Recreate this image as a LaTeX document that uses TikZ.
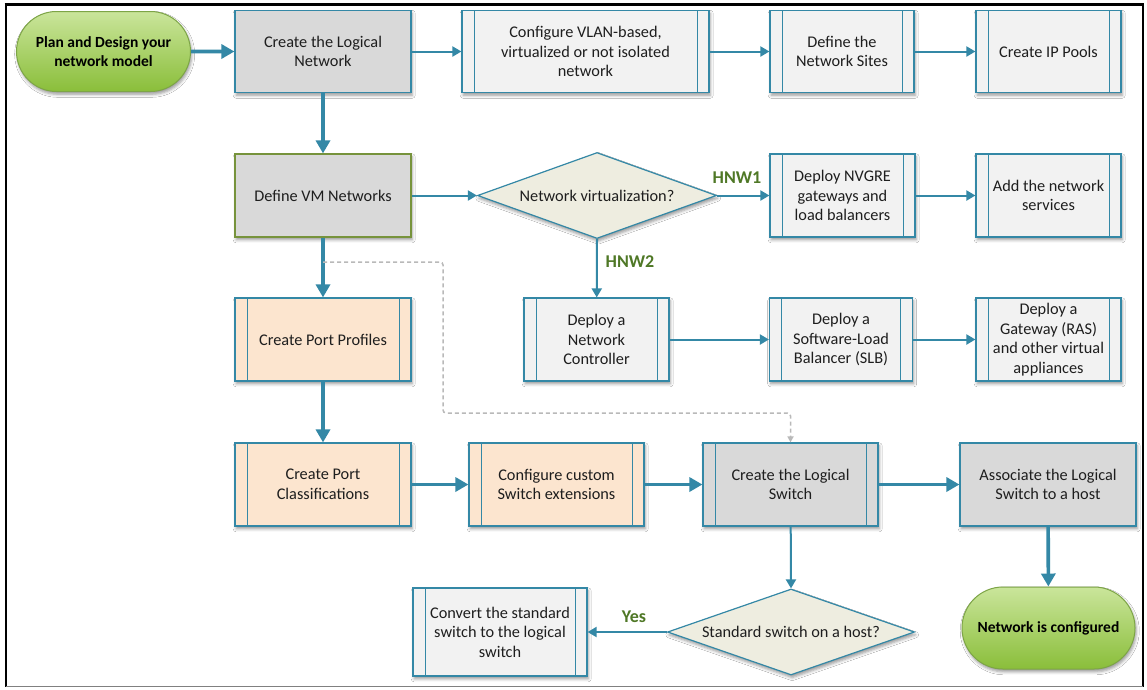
\documentclass[tikz,border=0pt]{standalone}
\usepackage{fontspec}
\setmainfont{Carlito}
\usetikzlibrary{arrows.meta,shadows.blur,shapes.geometric,shapes.misc}

\definecolor{flowteal}{RGB}{52,136,166}
\definecolor{boxgray}{RGB}{217,217,217}
\definecolor{boxlight}{RGB}{242,242,242}
\definecolor{boxpeach}{RGB}{252,229,207}
\definecolor{decisionfill}{RGB}{238,237,224}
\definecolor{termtop}{RGB}{202,229,155}
\definecolor{termbot}{RGB}{138,190,58}
\definecolor{termedge}{RGB}{125,165,70}
\definecolor{olivedge}{RGB}{119,147,60}
\definecolor{labelgreen}{RGB}{79,120,38}
\definecolor{textdark}{RGB}{30,30,30}
\definecolor{dashgray}{RGB}{185,185,185}

\tikzset{
  boxsize/.style 2 args={minimum width=#1pt, minimum height=#2pt},
  softshadow/.style={blur shadow={shadow xshift=1.2pt, shadow yshift=-2.8pt,
      shadow blur radius=3pt, shadow opacity=40}},
  basebox/.style={rectangle, draw=flowteal, line width=1.2pt, align=center,
      inner sep=0pt, text=textdark, font=\fontsize{16.3}{19.5}\selectfont, softshadow},
  procbox/.style={basebox,
      path picture={
        \draw[flowteal, line width=1pt]
          ([xshift=12pt]path picture bounding box.north west) --
          ([xshift=12pt]path picture bounding box.south west);
        \draw[flowteal, line width=1pt]
          ([xshift=-12pt]path picture bounding box.north east) --
          ([xshift=-12pt]path picture bounding box.south east);
      }},
  graybox/.style={basebox, fill=boxgray},
  lightproc/.style={procbox, fill=boxlight},
  grayproc/.style={procbox, fill=boxgray},
  peachproc/.style={procbox, fill=boxpeach},
  decision/.style={diamond, draw=flowteal, line width=1.2pt, fill=decisionfill,
      inner sep=0pt, softshadow},
  decisiontext/.style={text=textdark, font=\fontsize{16.3}{19.5}\selectfont},
  terminal/.style={rounded rectangle, draw=termedge, line width=1pt,
      top color=termtop, bottom color=termbot, align=center, inner sep=0pt,
      text=black, font=\fontsize{15.5}{19}\selectfont\bfseries, softshadow},
  thickarrow/.style={draw=flowteal, line width=3.6pt,
      -{Triangle[length=13pt,width=14pt]}},
  thinarrow/.style={draw=flowteal, line width=2pt,
      -{Triangle[length=9pt,width=10pt]}},
  dashconn/.style={draw=dashgray, line width=1.5pt, dash pattern=on 4pt off 3pt,
      rounded corners=3pt, -{Triangle[length=6pt,width=6pt]}},
  branchlabel/.style={text=labelgreen, font=\fontsize{18}{20}\selectfont\bfseries}
}

\begin{document}
\begin{tikzpicture}[x=1pt,y=-1pt]
  % canvas and outer frame
  \fill[white] (0,0) rectangle (1147,689);
  \useasboundingbox (0,0) rectangle (1147,689);
  \draw[black, line width=3pt] (4.5,4) -- (1144,4);
  \draw[black, line width=2.6pt] (6,3) -- (6,687);
  \draw[black, line width=2.6pt] (1143,3) -- (1143,687);
  \draw[gray, line width=1.6pt] (6,686.5) -- (1143,686.5);

  % row 1
  \node[terminal, boxsize={174}{80}] (start) at (103.5,51.5)
       {Plan and Design your\\network model};
  \node[graybox, boxsize={176}{82}] (cln) at (323,51.5)
       {Create the Logical\\Network};
  \node[lightproc, boxsize={247}{82}] (vlan) at (585.5,51.5)
       {Configure VLAN-based,\\virtualized or not isolated\\network};
  \node[lightproc, boxsize={144}{82}] (sites) at (842,51.5)
       {Define the\\Network Sites};
  \node[lightproc, boxsize={145}{82}] (pools) at (1048.5,51.5)
       {Create IP Pools};

  % row 2
  \node[graybox, draw=olivedge, boxsize={176}{83}] (dvm) at (323,195.5)
       {Define VM Networks};
  \node[decision, boxsize={239}{86},
        label={[decisiontext]center:Network virtualization?}] (nv) at (597,195.5) {};
  \node[lightproc, boxsize={145}{83}] (nvgre) at (842.5,195.5)
       {Deploy NVGRE\\gateways and\\load balancers};
  \node[lightproc, boxsize={145}{83}] (svc) at (1048.5,195.5)
       {Add the network\\services};

  % row 3
  \node[peachproc, boxsize={176}{83}] (pp) at (323,339.5)
       {Create Port Profiles};
  \node[lightproc, boxsize={145}{83}] (nc) at (596.5,339.5)
       {Deploy a\\Network\\Controller};
  \node[lightproc, boxsize={143}{83}] (slb) at (841,339.5)
       {Deploy a\\Software-Load\\Balancer (SLB)};
  \node[lightproc, boxsize={145}{83}] (gw) at (1048.5,339.5)
       {Deploy a\\Gateway (RAS)\\and other virtual\\appliances};

  % row 4
  \node[peachproc, boxsize={176}{83}] (pc) at (323,484.5)
       {Create Port\\Classifications};
  \node[peachproc, boxsize={175}{83}] (cse) at (556.5,484.5)
       {Configure custom\\Switch extensions};
  \node[grayproc, boxsize={175}{83}] (ls) at (790.5,484.5)
       {Create the Logical\\Switch};
  \node[graybox, boxsize={176}{83}] (assoc) at (1048,484.5)
       {Associate the Logical\\Switch to a host};

  % row 5
  \node[lightproc, boxsize={174}{88}] (conv) at (500,632)
       {Convert the standard\\switch to the logical\\switch};
  \node[decision, boxsize={247}{86},
        label={[decisiontext]center:Standard switch on a host?}] (std) at (791,632) {};
  \node[terminal, boxsize={173}{82}] (done) at (1048.5,628)
       {Network is configured};

  % main flow
  \draw[thickarrow] (start) -- (cln);
  \draw[thickarrow] (cln) -- (dvm);
  \draw[thickarrow] (dvm) -- (pp);
  \draw[thickarrow] (pp) -- (pc);
  \draw[thickarrow] (pc) -- (cse);
  \draw[thickarrow] (cse) -- (ls);
  \draw[thickarrow] (ls) -- (assoc);
  \draw[thickarrow] (assoc) -- (done);

  % logical network branch
  \draw[thinarrow] (cln) -- (vlan);
  \draw[thinarrow] (vlan) -- (sites);
  \draw[thinarrow] (sites) -- (pools);

  % network virtualization branch
  \draw[thinarrow] (dvm) -- (nv.west);
  \draw[thinarrow] (nv.east) -- (nvgre);
  \draw[thinarrow] (nvgre) -- (svc);
  \draw[thinarrow] (nv.south) -- (nc);
  \draw[thinarrow] (nc) -- (slb);
  \draw[thinarrow] (slb) -- (gw);
  \node[branchlabel] (hnw1) at (737,178) {HNW1};
  \node[branchlabel] (hnw2) at (630,262) {HNW2};

  % standard switch check
  \draw[thinarrow] (ls) -- (std.north);
  \draw[thinarrow] (std.west) -- (conv);
  \node[branchlabel] (yes) at (634,617) {Yes};

  % optional path to the logical switch
  \coordinate (dashstart) at (323,262);
  \draw[dashconn] (dashstart) -- (443,262) -- (443,413) -| (ls.north);
\end{tikzpicture}
\end{document}
